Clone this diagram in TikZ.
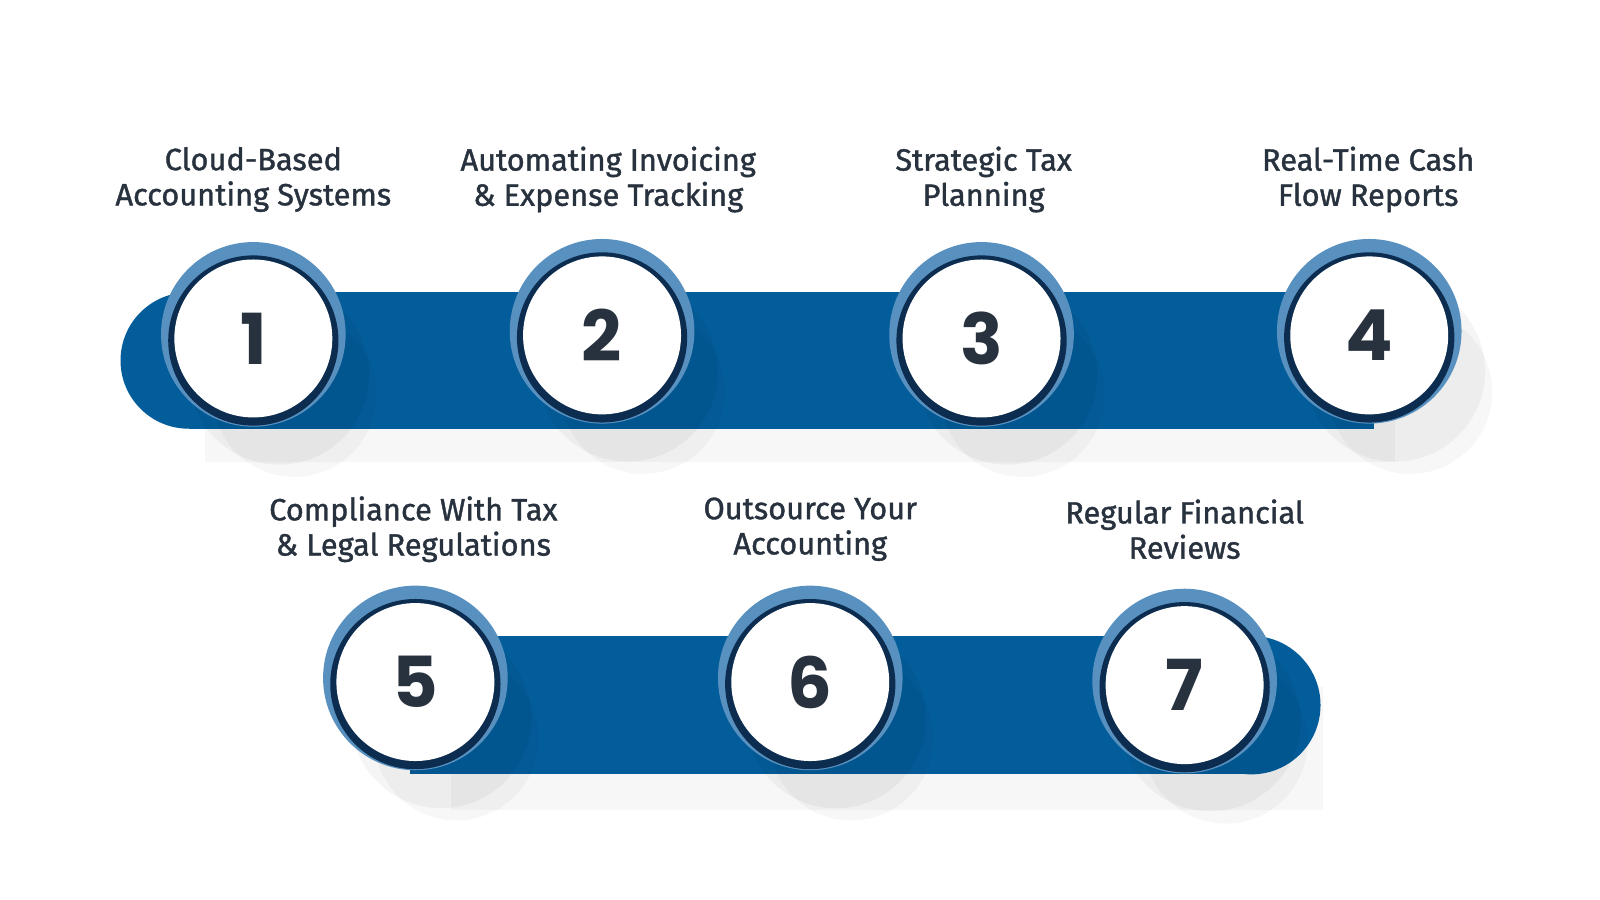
\documentclass[tikz,border=0pt]{standalone}
\usepackage{fontspec}
\setmainfont{Fira Sans}
\newfontfamily\numfont{Poppins}[UprightFont=* Bold]
\definecolor{band}{RGB}{4,93,155}
\definecolor{ringl}{RGB}{88,145,192}
\definecolor{ringd}{RGB}{12,45,80}
\definecolor{txt}{RGB}{40,50,62}
\tikzset{x=0.0205cm,y=-0.0205cm,
 title/.style={align=center,text=txt,font=\fontsize{17.5}{20}\selectfont\addfontfeature{FakeBold=1.2}},
 num/.style={text=txt,font=\numfont\fontsize{40}{40}\selectfont}}
\newcommand{\stepcirc}[3]{%
 \fill[black,opacity=0.04] (#1+25,#2+35) circle (88);
 \fill[black,opacity=0.03] (#1+40,#2+55) circle (80);
 \fill[ringl] (#1,#2-4) circle (90);
 \fill[ringd] (#1,#2+2) circle (83);
 \fill[white] (#1,#2) circle (77);
 \node[num] (n#3) at (#1,#2) {#3};}
\begin{document}
\begin{tikzpicture}
\useasboundingbox (0,0) rectangle (1560,877.5);
\fill[white] (0,0) rectangle (1560,877.5);
% bands
\fill[black,opacity=0.03] (200,330) rectangle (1360,450);
\fill[band] (184,285) rectangle (1340,418);
\fill[band] (184,351.5) circle (66.5);
\fill[black,opacity=0.03] (440,670) rectangle (1290,790);
\fill[band] (400,620) rectangle (1220,755);
\fill[band] (1220,687.5) circle (67.5);
\stepcirc{247}{330}{1}
\stepcirc{587}{327}{2}
\stepcirc{957}{330}{3}
\stepcirc{1335}{327}{4}
\stepcirc{405}{665}{5}
\stepcirc{790}{665}{6}
\stepcirc{1155}{668}{7}
\node[title] (t1) at (247,175) {Cloud-Based\\Accounting Systems};
\node[title] (t2) at (593,175) {Automating Invoicing\\\& Expense Tracking};
\node[title] (t3) at (959,175) {Strategic Tax\\Planning};
\node[title] (t4) at (1334,175) {Real-Time Cash\\Flow Reports};
\node[title] (t5) at (403,516) {Compliance With Tax\\\& Legal Regulations};
\node[title] (t6) at (790,516) {Outsource Your\\Accounting};
\node[title] (t7) at (1155,516) {Regular Financial\\Reviews};
\end{tikzpicture}
\end{document}
